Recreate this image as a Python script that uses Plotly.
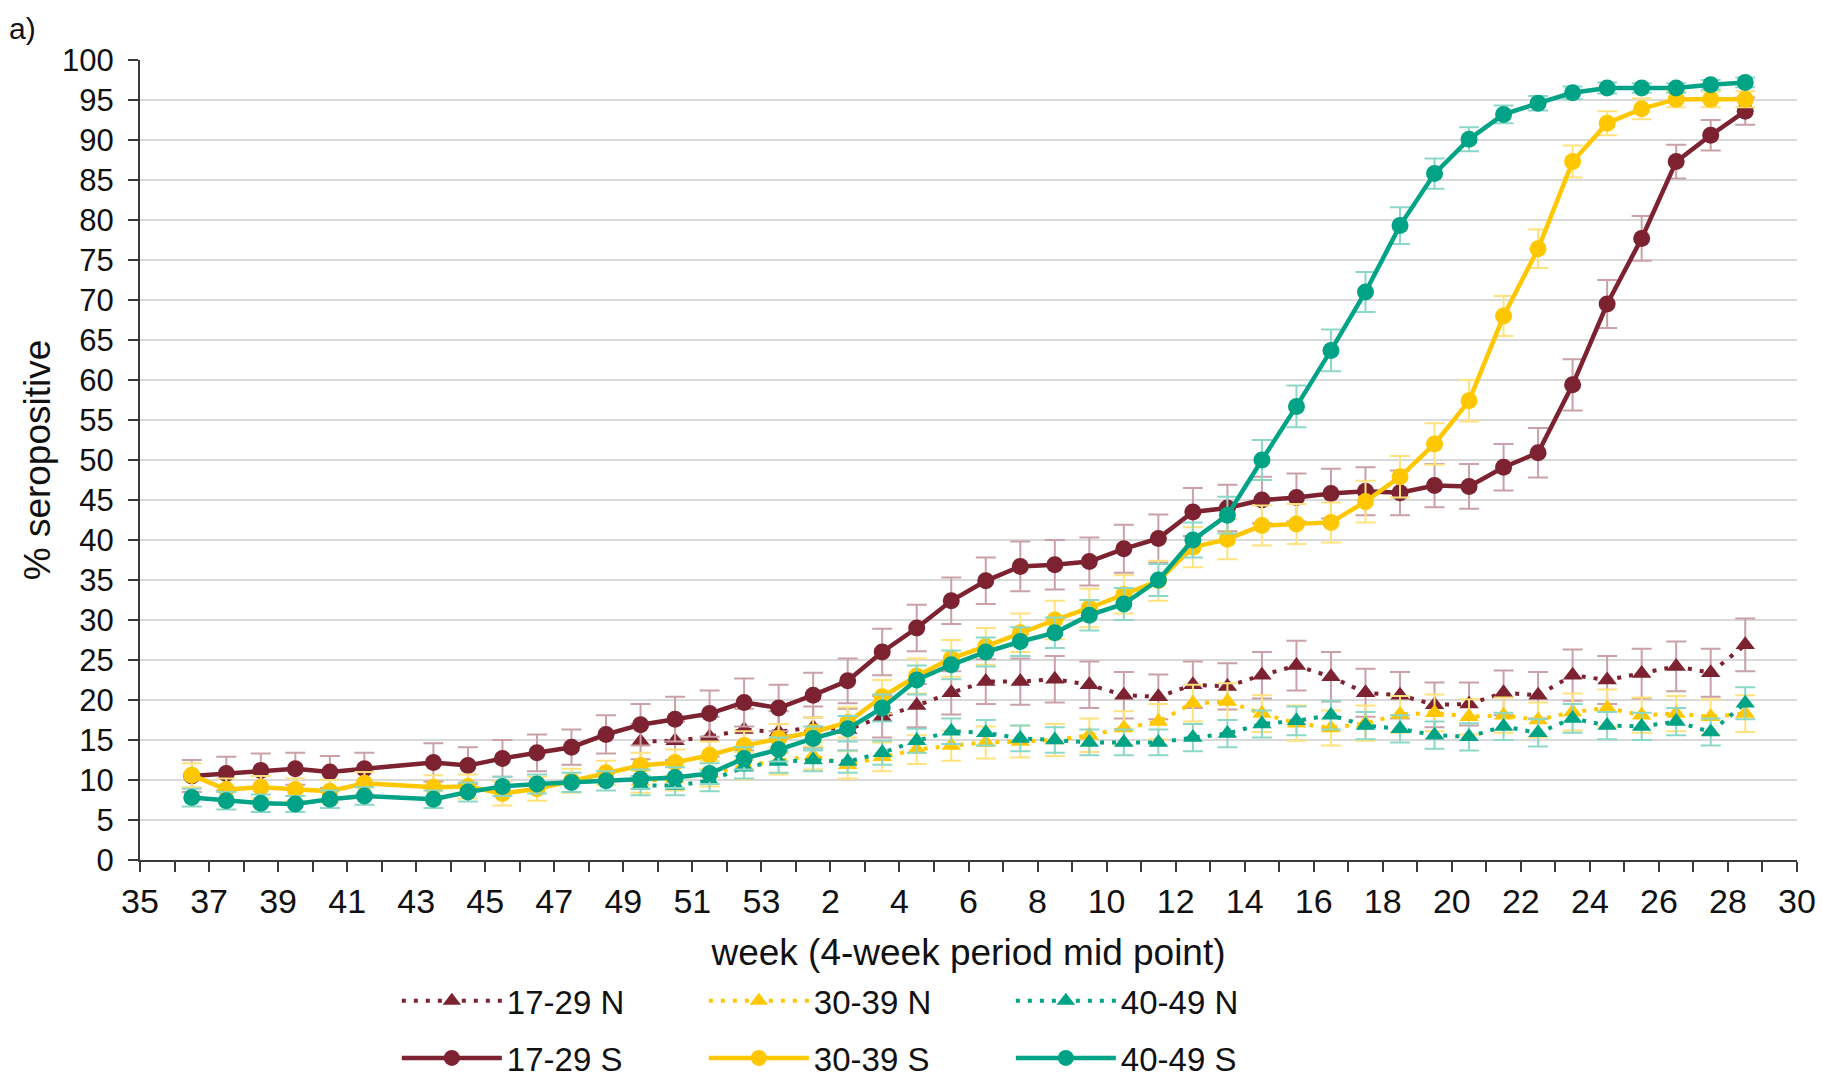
import plotly.graph_objects as go

# ---------------- data ----------------
# axis weeks: week 35 of 2020 ... week 53 of 2020, then week 1 ... week 30 of 2021
axis_weeks = [35, 36, 37, 38, 39, 40, 41, 42, 43, 44, 45, 46, 47, 48, 49, 50, 51, 52, 53,
              1, 2, 3, 4, 5, 6, 7, 8, 9, 10, 11, 12, 13, 14, 15, 16, 17, 18, 19, 20,
              21, 22, 23, 24, 25, 26, 27, 28, 29, 30]

# 4-week period mid points
mid_weeks_S = [36.5, 37.5, 38.5, 39.5, 40.5, 41.5, 43.5, 44.5, 45.5, 46.5, 47.5, 48.5,
               49.5, 50.5, 51.5, 52.5, 53.5,
               1.5, 2.5, 3.5, 4.5, 5.5, 6.5, 7.5, 8.5, 9.5, 10.5, 11.5, 12.5, 13.5, 14.5,
               15.5, 16.5, 17.5, 18.5, 19.5, 20.5, 21.5, 22.5, 23.5, 24.5, 25.5, 26.5,
               27.5, 28.5]
mid_weeks_N = [49.5, 50.5, 51.5, 52.5, 53.5,
               1.5, 2.5, 3.5, 4.5, 5.5, 6.5, 7.5, 8.5, 9.5, 10.5, 11.5, 12.5, 13.5, 14.5,
               15.5, 16.5, 17.5, 18.5, 19.5, 20.5, 21.5, 22.5, 23.5, 24.5, 25.5, 26.5,
               27.5, 28.5]

s_17_29 = [10.5, 10.8, 11.2, 11.4, 11.0, 11.4, 12.2, 11.8, 12.7, 13.4, 14.1, 15.7,
           16.9, 17.6, 18.3, 19.7, 19.0,
           20.6, 22.4, 26.0, 29.0, 32.4, 34.9, 36.7, 36.9, 37.3, 38.9, 40.2, 43.5, 44.0,
           45.0, 45.3, 45.8, 46.1, 45.9, 46.8, 46.7, 49.1, 50.9, 59.4, 69.5, 77.7, 87.3,
           90.6, 93.6]
s_30_39 = [10.6, 8.8, 9.1, 8.8, 8.6, 9.6, 9.1, 9.2, 8.3, 8.9, 9.9, 10.9,
           11.8, 12.2, 13.1, 14.3, 15.2,
           16.0, 17.2, 20.4, 23.0, 25.2, 26.7, 28.4, 30.0, 31.5, 33.2, 34.9, 39.1, 40.1,
           41.8, 42.0, 42.2, 44.8, 47.9, 52.0, 57.4, 68.0, 76.4, 87.3, 92.1, 93.9, 95.1,
           95.1, 95.1]
s_40_49 = [7.8, 7.4, 7.1, 7.0, 7.6, 8.0, 7.6, 8.5, 9.2, 9.5, 9.7, 9.9,
           10.1, 10.3, 10.8, 12.7, 13.8,
           15.2, 16.4, 19.0, 22.5, 24.4, 26.0, 27.3, 28.4, 30.6, 32.0, 35.0, 40.0, 43.1,
           50.0, 56.7, 63.7, 71.0, 79.3, 85.8, 90.1, 93.2, 94.6, 95.9, 96.5, 96.5, 96.5,
           96.9, 97.2]

n_17_29 = [14.8, 14.9, 15.4, 16.3, 16.0,
           16.6, 16.3, 17.9, 19.3, 20.9, 22.3, 22.3, 22.6, 21.9, 20.6, 20.4, 21.9, 21.7,
           23.1, 24.3, 22.9, 20.9, 20.6, 19.4, 19.5, 20.9, 20.6, 23.1, 22.5, 23.3, 24.2,
           23.4, 26.9]
n_30_39 = [9.8, 10.2, 10.8, 11.8, 12.4,
           13.0, 11.9, 12.9, 13.8, 14.3, 14.7, 14.8, 15.0, 15.6, 16.5, 17.3, 19.6, 19.8,
           18.3, 17.1, 16.5, 17.1, 18.2, 18.4, 17.9, 18.1, 17.5, 18.5, 19.0, 18.1, 18.3,
           17.9, 18.3]
n_40_49 = [9.3, 9.3, 9.9, 11.6, 12.3,
           12.5, 12.3, 13.4, 14.9, 16.1, 15.9, 15.2, 15.0, 14.7, 14.7, 14.7, 15.3, 15.8,
           17.0, 17.4, 18.1, 16.8, 16.4, 15.6, 15.4, 16.7, 15.9, 17.7, 16.8, 16.7, 17.3,
           16.0, 19.6]

# 95% CI half-widths (error bars)
err_s_17_29 = [2.0, 2.1, 2.1, 2.0, 2.0, 2.0, 2.4, 2.3, 2.3, 2.3, 2.2, 2.4,
               2.6, 2.8, 2.9, 3.0, 2.9,
               2.8, 2.8, 2.9, 2.9, 2.9, 2.9, 3.1, 3.1, 3.0, 3.0, 3.0, 3.0, 2.9, 2.9,
               3.0, 3.1, 3.0, 2.8, 2.7, 2.8, 2.9, 3.1, 3.2, 3.0, 2.8, 2.1, 1.9, 1.7]
err_s_30_39 = [1.5, 1.4, 1.4, 1.4, 1.4, 1.4, 1.5, 1.5, 1.5, 1.5, 1.5, 1.5,
               1.6, 1.6, 1.7, 1.8, 1.8,
               1.8, 1.9, 2.1, 2.2, 2.3, 2.3, 2.4, 2.4, 2.4, 2.4, 2.5, 2.5, 2.5, 2.5,
               2.5, 2.5, 2.6, 2.6, 2.6, 2.6, 2.5, 2.4, 2.0, 1.5, 1.3, 1.0, 1.0, 1.0]
err_s_40_49 = [1.1, 1.1, 1.1, 1.0, 1.1, 1.1, 1.1, 1.2, 1.2, 1.2, 1.2, 1.2,
               1.2, 1.3, 1.3, 1.4, 1.5,
               1.5, 1.6, 1.7, 1.8, 1.8, 1.8, 1.8, 1.9, 1.9, 2.0, 2.0, 2.2, 2.3, 2.5,
               2.6, 2.6, 2.5, 2.3, 1.9, 1.5, 1.1, 0.9, 0.8, 0.7, 0.6, 0.6, 0.6, 0.6]
err_n_17_29 = [2.2, 2.4, 2.5, 2.6, 2.6,
               2.6, 2.6, 2.6, 2.7, 2.7, 2.8, 2.9, 2.9, 2.9, 2.9, 2.8, 2.9, 2.9, 2.9,
               3.1, 3.1, 3.0, 2.9, 2.8, 2.7, 2.8, 2.9, 3.2, 3.0, 3.1, 3.1, 3.0, 3.3]
err_n_30_39 = [1.4, 1.5, 1.6, 1.7, 1.7,
               1.7, 1.7, 1.8, 1.8, 1.9, 2.0, 2.0, 2.0, 2.1, 2.1, 2.2, 2.3, 2.3, 2.3,
               2.2, 2.2, 2.2, 2.3, 2.3, 2.2, 2.2, 2.2, 2.3, 2.3, 2.2, 2.2, 2.2, 2.3]
err_n_40_49 = [1.2, 1.2, 1.3, 1.4, 1.4,
               1.4, 1.4, 1.5, 1.5, 1.6, 1.6, 1.6, 1.6, 1.6, 1.6, 1.6, 1.7, 1.7, 1.7,
               1.8, 1.8, 1.7, 1.7, 1.7, 1.7, 1.7, 1.7, 1.8, 1.7, 1.7, 1.7, 1.7, 2.0]

# ---------------- styling ----------------
FONT = "Liberation Sans, Arial, sans-serif"
MAROON, MAROON_L = "#7D2230", "#C9A1A7"
GOLD, GOLD_L = "#FFC700", "#FFE27E"
TEAL, TEAL_L = "#00A386", "#8CD7C7"
AXIS = "#3A3A3A"
TXT = "#111111"


def week_to_pos(w):
    """Position on the continuous week axis (week 35 of 2020 = 0; 2020 has 53 weeks)."""
    first = axis_weeks[0]
    last_2020 = axis_weeks[axis_weeks.index(1) - 1]
    return w - first if w >= first else w + last_2020 - first


xs_S = [week_to_pos(w) for w in mid_weeks_S]
xs_N = [week_to_pos(w) for w in mid_weeks_N]

fig = go.Figure()

n_series = [
    ("17-29 N", n_17_29, err_n_17_29, MAROON, MAROON_L),
    ("30-39 N", n_30_39, err_n_30_39, GOLD, GOLD_L),
    ("40-49 N", n_40_49, err_n_40_49, TEAL, TEAL_L),
]
s_series = [
    ("17-29 S", s_17_29, err_s_17_29, MAROON, MAROON_L),
    ("30-39 S", s_30_39, err_s_30_39, GOLD, GOLD_L),
    ("40-49 S", s_40_49, err_s_40_49, TEAL, TEAL_L),
]

for name, vals, err, col, col_l in n_series:
    fig.add_trace(go.Scatter(
        x=xs_N, y=vals, name=name, mode="lines+markers", legend="legend",
        line=dict(color=col, width=4, dash="4px,8px"),
        marker=dict(symbol="triangle-up", size=17, color=col),
        error_y=dict(type="data", array=err, visible=True, color=col_l,
                     thickness=2, width=10),
    ))

for name, vals, err, col, col_l in s_series:
    fig.add_trace(go.Scatter(
        x=xs_S, y=vals, name=name, mode="lines+markers", legend="legend2",
        line=dict(color=col, width=4.5),
        marker=dict(symbol="circle", size=17, color=col),
        error_y=dict(type="data", array=err, visible=True, color=col_l,
                     thickness=2, width=10),
    ))

tick_positions = list(range(len(axis_weeks)))
tick_text = [str(w) if i % 2 == 0 else "" for i, w in enumerate(axis_weeks)]

legend_common = dict(
    orientation="h", xref="paper", yref="paper", xanchor="left", yanchor="top",
    entrywidth=192, entrywidthmode="pixels", itemwidth=100,
    font=dict(family=FONT, size=33, color=TXT),
    bgcolor="rgba(0,0,0,0)", borderwidth=0, itemclick=False, itemdoubleclick=False,
)

fig.update_layout(
    width=1822, height=1084, autosize=False,
    margin=dict(l=140, r=25, t=60, b=224, autoexpand=False),
    paper_bgcolor="white", plot_bgcolor="white",
    font=dict(family=FONT, color=TXT),
    showlegend=True,
    legend=dict(legend_common, x=0.155, y=-0.141),
    legend2=dict(legend_common, x=0.155, y=-0.2125),
    xaxis=dict(
        range=[0, len(axis_weeks) - 1], tickmode="array",
        tickvals=tick_positions, ticktext=tick_text,
        ticks="outside", ticklen=10, tickwidth=2, tickcolor=AXIS,
        showline=True, linecolor=AXIS, linewidth=2,
        showgrid=False, zeroline=False,
        tickfont=dict(family=FONT, size=34, color=TXT),
        ticklabelstandoff=0,
        title=dict(text="week (4-week period mid point)",
                   font=dict(family=FONT, size=37, color=TXT), standoff=20),
        automargin=False,
    ),
    yaxis=dict(
        range=[0, 100], tick0=0, dtick=5,
        ticks="outside", ticklen=10, tickwidth=2, tickcolor=AXIS,
        showline=True, linecolor=AXIS, linewidth=2,
        showgrid=True, gridcolor="#D9D9D9", gridwidth=2, zeroline=False,
        tickfont=dict(family=FONT, size=31, color=TXT),
        ticklabelstandoff=8,
        title=dict(text="% seropositive",
                   font=dict(family=FONT, size=37, color=TXT), standoff=0),
        automargin=False,
    ),
    annotations=[dict(
        text="a)", xref="paper", yref="paper", x=-0.080, y=1.062,
        xanchor="left", yanchor="top", showarrow=False,
        font=dict(family=FONT, size=30, color=TXT),
    )],
)

fig.write_html("out.html", config={"displayModeBar": False},
               post_script="document.body.style.margin='0';document.body.style.overflow='hidden';")
